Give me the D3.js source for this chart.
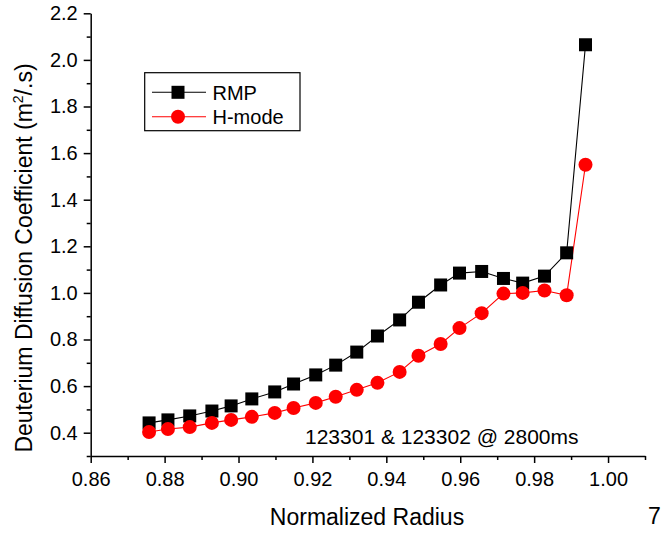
<!DOCTYPE html>
<html><head><meta charset="utf-8">
<script src="https://cdn.jsdelivr.net/npm/d3@7"></script>
<style>body{margin:0;background:#fff}svg{display:block}text{font-family:"Liberation Sans",Arial,sans-serif;fill:#000}</style>
</head><body>
<svg id="c" width="662" height="535"></svg>
<script>
const radius = [0.8758,0.8809,0.8868,0.8928,0.8980,0.9036,0.9098,0.9149,0.9209,0.9263,0.9320,0.9376,0.9436,0.9487,0.9547,0.9598,0.9658,0.9717,0.9769,0.9828,0.9888,0.9939];
const rmp = [0.442,0.455,0.472,0.493,0.515,0.545,0.575,0.609,0.648,0.690,0.746,0.815,0.884,0.960,1.034,1.085,1.092,1.062,1.042,1.072,1.172,2.065];
const hmode = [0.403,0.416,0.424,0.442,0.455,0.468,0.485,0.506,0.528,0.554,0.584,0.614,0.661,0.730,0.781,0.849,0.913,0.997,1.000,1.010,0.990,1.550];
const xMajor = [0.86,0.88,0.90,0.92,0.94,0.96,0.98,1.00];
const xMinor = [0.87,0.89,0.91,0.93,0.95,0.97,0.99,1.01];
const yMajor = [0.4,0.6,0.8,1.0,1.2,1.4,1.6,1.8,2.0,2.2];
const yMinor = [0.3,0.5,0.7,0.9,1.1,1.3,1.5,1.7,1.9,2.1];
const seriesNames = ["RMP","H-mode"];
const seriesColors = ["#000000","#ff0000"];

const svg = d3.select("#c");
const x = d3.scaleLinear().domain([0.86,1.01]).range([90.7,645]);
const y = d3.scaleLinear().domain([0.3,2.2]).range([456,13.3]);

// axes
const xAxis = d3.axisBottom(x).tickValues(xMajor).tickFormat(d3.format(".2f")).tickSizeInner(7).tickSizeOuter(0).tickPadding(4);
const gx = svg.append("g").attr("transform","translate(0,456)").call(xAxis);
gx.selectAll("text").attr("font-size",20).attr("font-family","Liberation Sans, Arial, sans-serif").attr("dy","0.95em");
const xAxisMinor = d3.axisBottom(x).tickValues(xMinor).tickFormat("").tickSizeInner(4).tickSizeOuter(0);
const gxm = svg.append("g").attr("transform","translate(0,456)").call(xAxisMinor);
gxm.select(".domain").remove();

const yAxis = d3.axisLeft(y).tickValues(yMajor).tickFormat(d3.format(".1f")).tickSizeInner(7).tickSizeOuter(0).tickPadding(6);
const gy = svg.append("g").attr("transform","translate(90.7,0)").call(yAxis);
gy.selectAll("text").attr("font-size",20).attr("font-family","Liberation Sans, Arial, sans-serif");
const yAxisMinor = d3.axisLeft(y).tickValues(yMinor).tickFormat("").tickSizeInner(4).tickSizeOuter(0);
const gym = svg.append("g").attr("transform","translate(90.7,0)").call(yAxisMinor);
gym.select(".domain").remove();
svg.selectAll(".domain").attr("stroke-width",1.5);
svg.selectAll(".tick line").attr("stroke-width",1.5);

// series
const series = [rmp, hmode];
series.forEach((vals,i)=>{
  const pts = radius.map((r,j)=>[r, vals[j]]);
  svg.append("path").datum(pts)
    .attr("fill","none").attr("stroke",seriesColors[i]).attr("stroke-width",1.1)
    .attr("d", d3.line().x(d=>x(d[0])).y(d=>y(d[1])));
});
svg.append("g").selectAll("rect").data(radius.map((r,j)=>[r,rmp[j]])).join("rect")
  .attr("x",d=>x(d[0])-6.5).attr("y",d=>y(d[1])-6.5).attr("width",13).attr("height",13).attr("fill","#000");
svg.append("g").selectAll("circle").data(radius.map((r,j)=>[r,hmode[j]])).join("circle")
  .attr("cx",d=>x(d[0])).attr("cy",d=>y(d[1])).attr("r",7).attr("fill","#ff0000");

// legend
const lg = svg.append("g");
lg.append("rect").attr("x",144.7).attr("y",72.7).attr("width",155.3).attr("height",58).attr("fill","#fff").attr("stroke","#000").attr("stroke-width",1.2);
const rows = [92.3,116.7];
rows.forEach((ry,i)=>{
  lg.append("line").attr("x1",152).attr("x2",206).attr("y1",ry).attr("y2",ry).attr("stroke",seriesColors[i]).attr("stroke-width",1.1);
  if(i===0) lg.append("rect").attr("x",178-6.5).attr("y",ry-6.5).attr("width",13).attr("height",13).attr("fill","#000");
  else lg.append("circle").attr("cx",178).attr("cy",ry).attr("r",7).attr("fill","#ff0000");
  lg.append("text").attr("x",212.5).attr("y",ry).attr("dy","0.36em").attr("font-size",20).text(seriesNames[i]);
});

// annotation
svg.append("text").attr("x",305).attr("y",444).attr("font-size",21).text("123301 & 123302 @ 2800ms");

// axis titles
svg.append("text").attr("x",367).attr("y",525).attr("text-anchor","middle").attr("font-size",23).text("Normalized Radius");
const yt = svg.append("text").attr("transform","translate(31.5,258) rotate(-90)").attr("text-anchor","middle").attr("font-size",23);
yt.append("tspan").text("Deuterium Diffusion Coefficient (m");
yt.append("tspan").attr("font-size",14).attr("dy","-0.6em").text("2");
yt.append("tspan").attr("dy","0.39em").text("/.s)");

svg.append("text").attr("x",648).attr("y",524).attr("font-size",23).text("7");
</script>
</body></html>
